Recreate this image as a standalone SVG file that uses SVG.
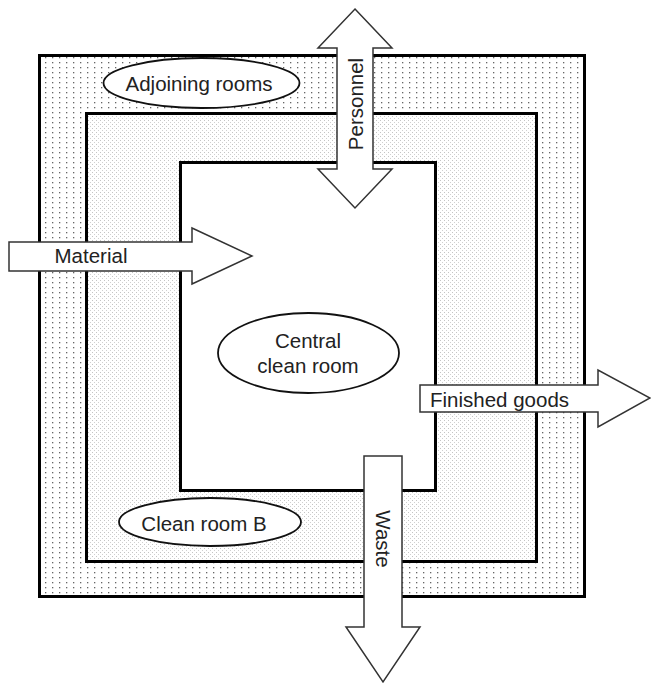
<svg xmlns="http://www.w3.org/2000/svg" width="651" height="684" viewBox="0 0 651 684">
  <style>
    .wall { stroke: #000; stroke-width: 3; }
    .arrow { fill: #fff; stroke: #333; stroke-width: 1.5; stroke-linejoin: miter; }
    .oval { fill: #fff; stroke: #111; stroke-width: 1.8; }
    .lbl { font-family: "Liberation Sans", Arial, sans-serif; font-size: 20.5px; fill: #222; }
  </style>
  <defs>
    <pattern id="dots" x="0" y="0" width="7" height="5" patternUnits="userSpaceOnUse">
      <rect width="7" height="5" fill="#fff"/>
      <rect x="3" y="2" width="1.3" height="1.3" fill="#666"/>
    </pattern>
    <pattern id="stipple" x="0" y="0" width="4" height="4" patternUnits="userSpaceOnUse">
      <rect width="4" height="4" fill="#fff"/>
      <rect x="0" y="0" width="1" height="1" fill="#c4c4c4"/>
      <rect x="2" y="2" width="1" height="1" fill="#d0d0d0"/>
    </pattern>
  </defs>

  <g id="adjoining-rooms-area">
    <rect x="39.5" y="55.5" width="545" height="541" fill="url(#dots)" class="wall"/>
  </g>
  <g id="clean-room-b-area">
    <rect x="86.5" y="113.5" width="450" height="448" fill="url(#stipple)" class="wall"/>
  </g>
  <g id="central-area">
    <rect x="180.5" y="162.5" width="255" height="328" fill="#fff" class="wall"/>
  </g>

  <g id="adjoining-rooms">
    <ellipse cx="201.5" cy="83" rx="98" ry="25" class="oval"/>
    <text x="199" y="91" text-anchor="middle" class="lbl">Adjoining rooms</text>
  </g>
  <g id="central-clean-room">
    <ellipse cx="308.5" cy="353" rx="90.5" ry="40" class="oval"/>
    <text x="308" y="348" text-anchor="middle" class="lbl">Central</text>
    <text x="308" y="373" text-anchor="middle" class="lbl">clean room</text>
  </g>
  <g id="clean-room-b">
    <ellipse cx="210" cy="522" rx="91" ry="24" class="oval"/>
    <text x="204" y="531" text-anchor="middle" class="lbl">Clean room B</text>
  </g>

  <g id="connectors">
    <g id="personnel">
      <polygon class="arrow" points="355,9 392,48 373,48 373,169 392,169 355,208 318,169 337,169 337,48 318,48"/>
      <text transform="translate(356,104) rotate(-90)" x="0" y="7" text-anchor="middle" class="lbl">Personnel</text>
    </g>
    <g id="material">
      <polygon class="arrow" points="9,242 192,242 192,228 252,256 192,284 192,271 9,271"/>
      <text x="91" y="263" text-anchor="middle" class="lbl">Material</text>
    </g>
    <g id="finished-goods">
      <polygon class="arrow" points="420,385 598,385 598,370 650,398 598,427 598,412 420,412"/>
      <text x="430" y="407" class="lbl">Finished goods</text>
    </g>
    <g id="waste">
      <polygon class="arrow" points="364,456 402,456 402,627 420,627 383,682 346,627 364,627"/>
      <text transform="translate(383,539) rotate(90)" x="0" y="7" text-anchor="middle" class="lbl">Waste</text>
    </g>
  </g>
</svg>
